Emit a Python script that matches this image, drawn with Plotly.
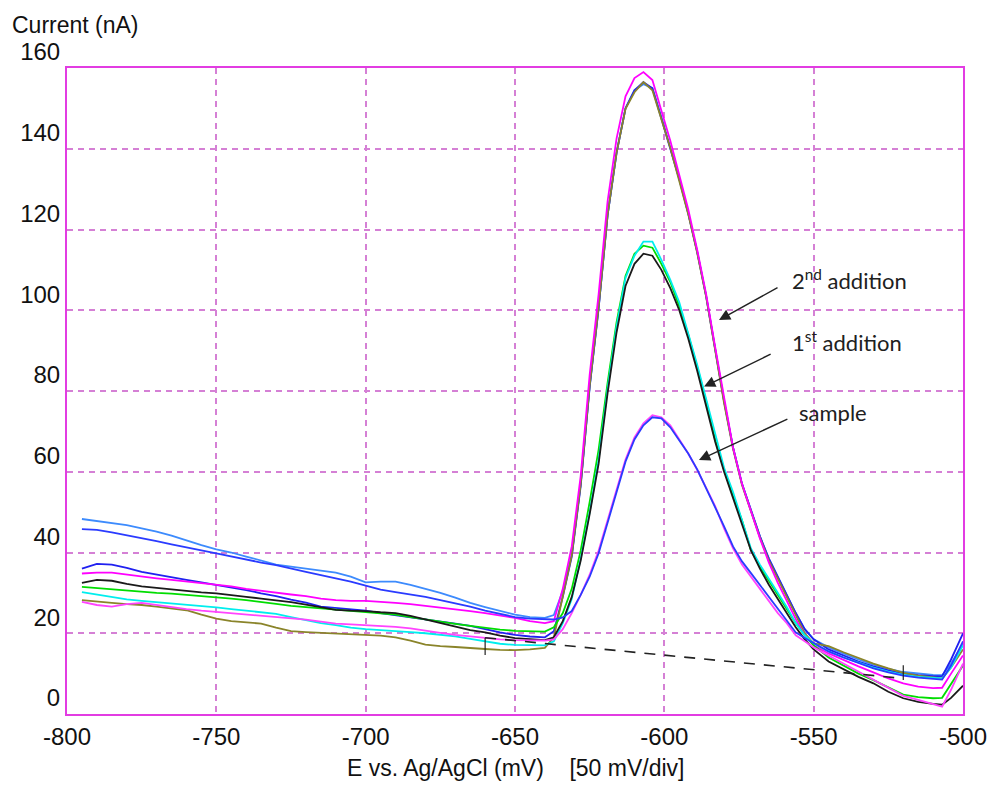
import plotly.graph_objects as go

# ---------------- data ----------------
potential_left = [-795, -790, -785, -780, -775, -770, -765, -760, -755, -750, -745, -740,
                  -735, -730, -725, -720, -715, -710, -705, -700, -695, -690, -685, -680,
                  -675, -670, -665, -660, -655, -650, -645, -640]
potential_peak = [-637, -634, -631, -628, -625, -622, -619, -616, -613, -610, -607, -604,
                  -601, -598, -595, -592, -589, -586, -583, -580, -577, -574, -571, -568,
                  -565, -562, -559, -556, -553, -550]
potential_tail = [-545, -540, -535, -530, -525, -520, -515, -510, -507, -504, -500]

# light blue (2nd addition)
current_lightblue = [48.3, 47.8, 47.3, 46.8, 46.0, 45.2, 44.2, 43.0, 41.8, 40.8, 40.0, 39.0, 38.0, 37.0, 36.5, 36.0,
                     35.4, 35.0, 34.0, 32.6, 32.8, 32.8, 32.0, 31.0, 30.0, 28.8, 27.5, 26.5, 25.5, 24.6, 24.0, 23.8,
                     24.5, 30.5, 39.5, 57, 81, 100.5, 123.5, 139, 150, 154.5, 156, 155, 148, 140.5, 132.5, 124,
                     114.5, 103.5, 90.5, 77.5, 66, 57, 50.5, 44, 38.5, 34, 29.5, 25, 21, 18.5,
                     16.5, 15, 13.5, 12.2, 11.2, 10.4, 10, 9.7, 9.6, 12.5, 17.5]
# blue (sample)
current_blue_sample = [45.8, 45.6, 45.0, 44.3, 43.5, 42.8, 42.0, 41.2, 40.5, 39.8, 39.0, 38.2, 37.5, 36.9, 36.0, 35.2,
                       34.4, 33.6, 32.8, 31.8, 30.8, 30.2, 29.6, 29.0, 28.2, 27.4, 26.6, 25.6, 24.8, 24.0, 23.6, 23.4,
                       23.4, 23.9, 25.5, 29.5, 34, 39.8, 47.5, 55.2, 62.5, 68, 71.5, 73.5, 73.2, 71, 67.8, 64.5,
                       60.6, 56, 51.5, 46.5, 41.5, 37.8, 34.9, 31.9, 28.9, 25.9, 22.9, 20.2, 18.8, 17.5,
                       15.5, 14, 12.6, 11.3, 10.3, 9.5, 9.0, 8.6, 8.5, 12, 18]
# blue (2nd addition)
current_blue_add2 = [36.0, 37.2, 37.0, 36.2, 35.2, 34.5, 33.8, 33.2, 32.6, 32.0, 31.4, 30.7, 29.9, 29.2, 28.3, 27.6,
                     26.6, 26.3, 26.0, 25.6, 25.0, 24.5, 24.0, 23.5, 23.0, 22.4, 21.8, 21.0, 20.2, 19.6, 19.2, 19.0,
                     20.5, 29, 39, 56.5, 81, 100.5, 123.5, 139, 150, 154.5, 156.5, 155, 147.5, 140.5, 132.5, 124,
                     114.5, 103.5, 90.5, 77.5, 66, 57, 50.5, 44, 38.5, 34, 29.5, 25, 21, 18.5,
                     16, 14.5, 13, 11.8, 10.8, 10, 9.6, 9.4, 9.3, 13.5, 20]
# magenta (2nd addition)
current_magenta_add2 = [34.8, 35.0, 35.0, 34.5, 34.0, 33.6, 33.2, 32.8, 32.3, 32.0, 31.6, 31.0, 30.5, 30.0, 29.6, 29.2,
                        28.6, 28.2, 28.0, 28.0, 27.8, 27.5, 27.2, 26.8, 26.3, 26.0, 25.5, 25.0, 24.4, 23.8, 23.0, 22.5,
                        23, 31, 41.5, 59, 84, 104, 127, 142.5, 153, 157.5, 159, 157, 149.5, 142, 133.5, 125,
                        115, 104, 91, 78, 66, 57, 50, 43.5, 37.5, 32.5, 28, 23.5, 19.5, 17,
                        15, 13.3, 11.8, 10.3, 8.8, 7.6, 6.8, 6.4, 6.5, 10, 14.5]
# black (1st addition)
current_black_add1 = [32.5, 33.2, 33.0, 32.2, 31.6, 31.2, 30.8, 30.5, 30.1, 29.9, 29.4, 29.0, 28.6, 28.2, 27.7, 27.1,
                      26.4, 25.8, 25.6, 25.5, 25.2, 25.0, 24.3, 23.4, 22.6, 21.6, 20.8, 20.2, 19.4, 18.8, 18.5, 18.3,
                      19, 23, 29, 38, 49.5, 62, 79.5, 94.5, 106, 111.5, 114, 113.5, 110, 105.5, 100, 93,
                      85, 76.5, 67.5, 60, 53.5, 47.5, 40.5, 36, 32, 28.5, 25, 21.5, 18.5, 16,
                      13, 11, 9.2, 7.6, 5.5, 3.9, 3.0, 2.5, 2.3, 4, 7]
# green (1st addition)
current_green_add1 = [31.5, 31.2, 30.8, 30.5, 30.2, 30.0, 29.8, 29.5, 29.2, 29.0, 28.6, 28.2, 27.8, 27.3, 26.8, 26.5,
                      26.2, 25.9, 25.5, 25.2, 25.0, 24.6, 24.0, 23.4, 22.8, 22.3, 21.8, 21.3, 20.9, 20.6, 20.5, 20.4,
                      21.5, 25, 31, 40.5, 52.5, 65.5, 82, 97, 108.5, 114, 116, 115.5, 111.5, 107, 101, 94,
                      86, 77.5, 68, 60.5, 54, 48, 40.5, 36.5, 33, 29.5, 26, 22.5, 19.5, 17,
                      14, 12, 10, 8.4, 6.5, 4.8, 4.2, 3.9, 4.0, 7.5, 12]
# cyan (1st addition)
current_cyan_add1 = [30.2, 29.6, 29.0, 28.4, 28.0, 27.7, 27.3, 27.0, 26.7, 26.4, 26.0, 25.6, 25.1, 24.8, 24.0, 23.3,
                     22.5, 22.0, 21.4, 21.0, 20.8, 20.6, 20.3, 20.0, 19.6, 19.2, 18.6, 18.0, 17.4, 17.1, 17.0, 17.0,
                     18, 22.5, 28.5, 38.5, 50, 63, 80.5, 96, 108, 113.5, 117, 117, 112.5, 107.5, 102, 94.5,
                     86.5, 78, 69.5, 61, 55, 48, 41, 37, 33.5, 30, 26.5, 22.5, 19.5, 17.5,
                     15.5, 14, 12.7, 11.5, 10.5, 9.7, 9.2, 8.9, 8.8, 11.5, 17]
# pink magenta (sample)
current_magenta_sample = [27.8, 27.0, 26.6, 27.2, 27.5, 27.0, 26.4, 26.0, 25.6, 25.3, 25.0, 24.6, 24.4, 24.1, 23.8, 23.4,
                          22.9, 22.4, 22.2, 22.0, 21.8, 21.6, 21.2, 20.6, 20.1, 19.6, 19.2, 18.8, 18.5, 18.3, 18.2, 18.2,
                          18.5, 21, 25, 29.5, 34.5, 40.5, 48, 55.5, 63, 68.5, 72, 74, 73.5, 71.5, 68, 64.5,
                          60.5, 56, 51.5, 46, 41, 37, 34, 31, 28, 25, 22.5, 19.5, 18, 16.5,
                          14.5, 12.5, 10.5, 8.5, 6.5, 4.5, 3.5, 2.5, 1.8, 6, 12.5]
# olive (2nd addition)
current_olive_add2 = [28.2, 27.8, 27.5, 27.2, 27.0, 26.6, 26.1, 25.7, 24.6, 23.6, 23.0, 22.7, 22.4, 21.4, 20.5, 20.3,
                      20.1, 19.9, 19.7, 19.6, 19.4, 19.0, 18.2, 17.2, 16.8, 16.6, 16.3, 16.1, 15.9, 15.8, 16.0, 16.4,
                      19, 29.5, 39.3, 57, 81.3, 100.8, 123.6, 139, 149.9, 154, 156.5, 154.5, 147.4, 140.2, 132, 123.8,
                      114.2, 103.3, 90.2, 77, 65.7, 56.7, 50.2, 43.7, 38, 33.5, 29, 24.5, 20, 17.5,
                      16.8, 15.3, 13.8, 12.5, 11.3, 10.2, 9.5, 9.0, 8.8, 11.5, 16]

baseline_x = [-660, -520]
baseline_y = [18.9, 8.8]
baseline_mark_x = [-660, -660, None, -520, -520]
baseline_mark_y = [14.6, 18.9, None, 8.4, 12.1]

x_ticks = [-800, -750, -700, -650, -600, -550, -500]
x_tick_text = ["-800", "-750", "-700", "-650", "-600", "-550", "-500"]
y_ticks = [0, 20, 40, 60, 80, 100, 120, 140, 160]
y_tick_text = ["0", "20", "40", "60", "80", "100", "120", "140", "160"]

potential = potential_left + potential_peak + potential_tail

series = [
    ("#3d8bfd", current_lightblue),
    ("#2020f0", current_blue_add2),
    ("#8a842a", current_olive_add2),
    ("#ff00ff", current_magenta_add2),
    ("#00dd00", current_green_add1),
    ("#00eeee", current_cyan_add1),
    ("#1a1a1a", current_black_add1),
    ("#ff44ff", current_magenta_sample),
    ("#2a3bff", current_blue_sample),
]

fig = go.Figure()
for color, ys in series:
    fig.add_trace(go.Scatter(x=potential, y=ys, mode="lines",
                             line=dict(color=color, width=1.8),
                             showlegend=False, hoverinfo="skip"))

fig.add_trace(go.Scatter(x=baseline_x, y=baseline_y, mode="lines",
                         line=dict(color="#222222", width=1.6, dash="11px,9px"),
                         showlegend=False, hoverinfo="skip"))
fig.add_trace(go.Scatter(x=baseline_mark_x, y=baseline_mark_y, mode="lines",
                         line=dict(color="#222222", width=1.2),
                         showlegend=False, hoverinfo="skip"))

FONT = "Liberation Sans, Arial, sans-serif"
tick_font = dict(family=FONT, size=24, color="#111111")
frame_color = "#e23ce2"
grid_color = "#d580d5"

fig.update_xaxes(range=[-800, -500], tickvals=x_ticks, ticktext=x_tick_text,
                 showgrid=True, gridcolor=grid_color, gridwidth=2, griddash="6px,5px",
                 showline=True, mirror=True, linecolor=frame_color, linewidth=2,
                 zeroline=False, ticks="", tickfont=tick_font, ticklabelstandoff=0,
                 automargin=False)
fig.update_yaxes(range=[0, 160], tickvals=y_ticks, ticktext=y_tick_text,
                 showgrid=True, gridcolor=grid_color, gridwidth=2, griddash="6px,5px",
                 showline=True, mirror=True, linecolor=frame_color, linewidth=2,
                 zeroline=False, ticks="", tickfont=tick_font, ticklabelshift=-16,
                 ticklabelstandoff=0, automargin=False)

label_font = dict(family="Lato, Open Sans, Noto Sans", size=22, color="#202020")
annotations = [
    dict(x=-557.9, y=107.5, xref="x", yref="y", text="2<sup>nd</sup> addition",
         showarrow=False, xanchor="left", yanchor="middle", font=label_font),
    dict(x=-557.9, y=92.3, xref="x", yref="y", text="1<sup>st</sup>&nbsp;addition",
         showarrow=False, xanchor="left", yanchor="middle", font=label_font),
    dict(x=-555.6, y=74.6, xref="x", yref="y", text="sample",
         showarrow=False, xanchor="left", yanchor="middle", font=label_font),
    dict(x=-581.7, y=97.6, ax=-561.6, ay=105.8, xref="x", yref="y", axref="x", ayref="y",
         text="", showarrow=True, arrowhead=2, arrowsize=1.6, arrowwidth=1.4, arrowcolor="#222222"),
    dict(x=-586.7, y=81.1, ax=-563.9, ay=89.3, xref="x", yref="y", axref="x", ayref="y",
         text="", showarrow=True, arrowhead=2, arrowsize=1.6, arrowwidth=1.4, arrowcolor="#222222"),
    dict(x=-588.4, y=62.9, ax=-558.3, ay=73.2, xref="x", yref="y", axref="x", ayref="y",
         text="", showarrow=True, arrowhead=2, arrowsize=1.6, arrowwidth=1.4, arrowcolor="#222222"),
    dict(x=-0.064, y=1.0666, xref="paper", yref="paper", text="Current (nA)",
         showarrow=False, xanchor="left", yanchor="middle",
         font=dict(family=FONT, size=23, color="#111111")),
    dict(x=0.5, y=-0.0836, xref="paper", yref="paper",
         text="E vs. Ag/AgCl (mV)&nbsp;&nbsp;&nbsp;&nbsp;[50 mV/div]",
         showarrow=False, xanchor="center", yanchor="middle",
         font=dict(family=FONT, size=23, color="#111111")),
]

fig.update_layout(width=989, height=786, autosize=False,
                  margin=dict(l=67, r=26, t=68, b=72, pad=0),
                  paper_bgcolor="white", plot_bgcolor="white",
                  annotations=annotations)

fig.write_html("out.html", config={"displayModeBar": False},
               post_script="document.body.style.margin='0px';document.body.style.overflow='hidden';")
